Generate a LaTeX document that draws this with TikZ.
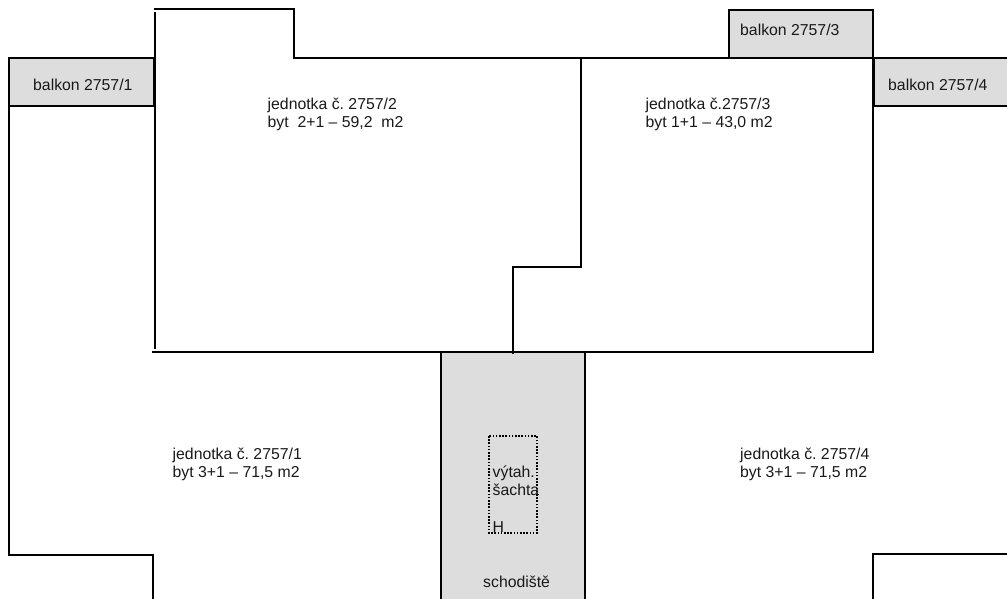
\documentclass[tikz,border=0pt]{standalone}
\usepackage{fontspec}
\setmainfont{Liberation Sans}
\frenchspacing
\tikzset{
  wall/.style={line width=1.9pt, line cap=rect},
  balkon/.style={draw, line width=1.9pt, fill=gray!27},
  popis/.style={anchor=base west, inner sep=0pt, font=\fontsize{15.8}{17.6}\selectfont, text=black!90, align=left},
}
\begin{document}
\begin{tikzpicture}[x=1pt, y=-1pt]
      \useasboundingbox (0,0) rectangle (1007,598);
      %
      \draw[balkon] (9,58) rectangle (154,106);      % balkon 1
      \draw[balkon] (729,10) rectangle (873,58);     % balkon 3
      \draw[balkon] (874,58) rectangle (1010,106);   % balkon 4
      \draw[balkon] (441,352) rectangle (585,601);   % schodiste
      %
      \draw[wall] (9,106) -- (9,555) -- (153,555) -- (153,601);  % left
      \draw[wall] (155,13) -- (155,348);
      \draw[wall] (155,9) -- (294,9) -- (294,58) -- (873,58) -- (873,352);
      \draw[wall] (153,352) -- (873,352);
      %
      \draw[wall] (581,58) -- (581,267) -- (513,267) -- (513,353);  % mid
      %
      \draw[wall] (873,601) -- (873,554) -- (1010,554);             % right
      %
      \draw[line width=1.6pt, dash pattern=on 1.6pt off 1.6pt] (489,436) rectangle (537,533);  % shaft
      %
      \draw(33,90) node(balkonA)[popis]{balkon 2757/1};
      \draw(740,35) node(balkonC)[popis]{balkon 2757/3};
      \draw(888,90) node(balkonD)[popis]{balkon 2757/4};
      %
      \draw(267.5,127) node(bytB)[popis]{jednotka č. 2757/2\\byt\ \ 2+1 – 59,2\ \ m2};
      \draw(645.5,127) node(bytC)[popis]{jednotka č.2757/3\\byt 1+1 – 43,0 m2};
      \draw(172.5,477) node(bytA)[popis]{jednotka č. 2757/1\\byt 3+1 – 71,5 m2};
      \draw(740,477) node(bytD)[popis]{jednotka č. 2757/4\\byt 3+1 – 71,5 m2};
      %
      \draw(492.5,495) node(vytah)[popis]{výtah.\\šachta};
      \draw(492.5,532.7) node(vytahH)[popis]{H};
      \draw(483,587) node(schody)[popis]{schodiště};
      %
\end{tikzpicture}
\end{document}
